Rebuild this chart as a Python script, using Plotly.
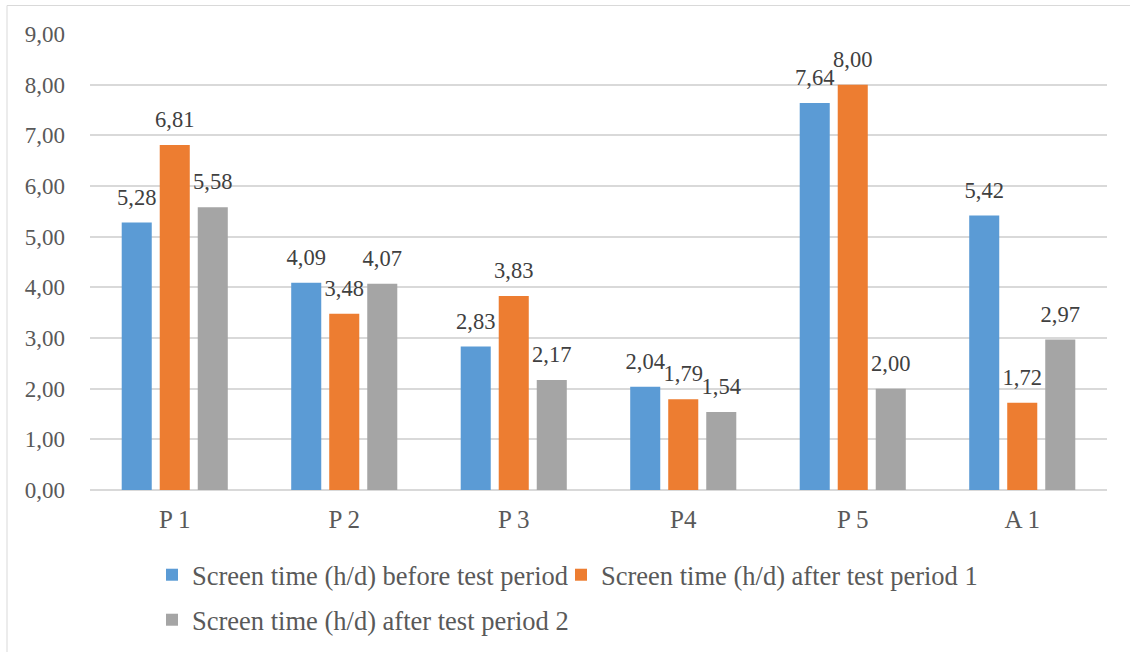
import plotly.graph_objects as go

categories = ["P 1", "P 2", "P 3", "P4", "P 5", "A 1"]
before = [5.28, 4.09, 2.83, 2.04, 7.64, 5.42]
after1 = [6.81, 3.48, 3.83, 1.79, 8.00, 1.72]
after2 = [5.58, 4.07, 2.17, 1.54, 2.00, 2.97]
names = [
    "Screen time (h/d) before test period",
    "Screen time (h/d) after test period 1",
    "Screen time (h/d) after test period 2",
]
colors = ["#5B9BD5", "#ED7D31", "#A5A5A5"]
legends = ["legend", "legend2", "legend3"]

FONT = "Liberation Serif"
W, H = 1130, 652
L, R, T, B = 90, 23, 34, 162
BARGAP = 0.327

fig = go.Figure()
for vals, name, col, lg in zip([before, after1, after2], names, colors, legends):
    fig.add_trace(go.Bar(
        x=categories, y=vals, name=name, marker_color=col, marker_line_width=0,
        legend=lg, hoverinfo="skip",
    ))
# value labels, grouped like the bars
for vals, name in zip([before, after1, after2], names):
    fig.add_trace(go.Scatter(
        x=categories, y=vals, mode="markers+text", showlegend=False,
        marker=dict(size=18, color="rgba(0,0,0,0)"),
        texttemplate="%{y:.2f}", textposition="top center", cliponaxis=False,
        textfont=dict(family=FONT, size=22.5, color="#404040"),
        hoverinfo="skip", name=name,
    ))

pw = W - L - R
ph = H - T - B
fig.add_shape(type="rect", xref="paper", yref="paper",
              x0=(7 - L) / pw, x1=(W + 10 - L) / pw,
              y0=(H - B - (H + 10)) / ph, y1=(H - B - 5.5) / ph,
              line=dict(color="#D9D9D9", width=1), fillcolor="rgba(0,0,0,0)", layer="below")

def leg(xpx, ypx):
    return dict(orientation="h", xref="container", yref="container",
                x=xpx / W, xanchor="left", y=1 - ypx / H, yanchor="middle",
                font=dict(family=FONT, size=26.5, color="#595959"), itemwidth=30,
                bgcolor="rgba(0,0,0,0)")

fig.update_layout(
    width=W, height=H, margin=dict(l=L, r=R, t=T, b=B),
    paper_bgcolor="white", plot_bgcolor="white",
    separators=",.",
    barmode="group", bargap=BARGAP, bargroupgap=0.21,
    scattermode="group", scattergap=BARGAP,
    font=dict(family=FONT, size=22, color="#595959"),
    xaxis=dict(showgrid=False, showline=False, ticks="", ticklabelstandoff=12,
               tickfont=dict(family=FONT, size=25, color="#595959")),
    yaxis=dict(range=[0, 9], dtick=1, tickformat=".2f", showgrid=True,
               gridcolor="#D9D9D9", gridwidth=1.5, zeroline=True, zerolinecolor="#D9D9D9",
               zerolinewidth=1.5, showline=False, ticklabelstandoff=24,
               tickfont=dict(family=FONT, size=23, color="#595959")),
    legend=leg(152, 575),
    legend2=leg(561, 575),
    legend3=leg(152, 620),
    showlegend=True,
)
fig.write_html("out.html")
